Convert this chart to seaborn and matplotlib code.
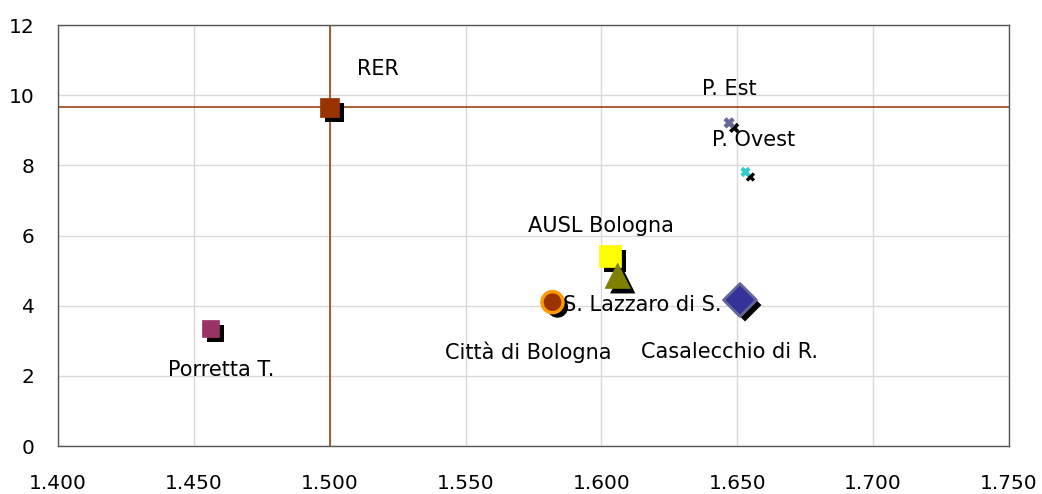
import matplotlib
matplotlib.use("Agg")
import matplotlib.pyplot as plt
import matplotlib.patheffects as pe
from matplotlib.ticker import FuncFormatter, MultipleLocator
import seaborn as sns
import pandas as pd

# ---- data ----
labels = ["RER", "Porretta T.", "P. Est", "P. Ovest", "AUSL Bologna",
          "S. Lazzaro di S.", "Città di Bologna", "Casalecchio di R."]
x_vals = [1.500, 1.456, 1.647, 1.653, 1.603, 1.606, 1.582, 1.651]
y_vals = [9.66, 3.34, 9.21, 7.81, 5.42, 4.85, 4.10, 4.16]
face_colors = ["#993300", "#993366", "#666699", "#33CCCC", "#FFFF00",
               "#808000", "#993300", "#333399"]
edge_colors = ["#993300", "#993366", "#666699", "#33CCCC", "#FFFF00",
               "#808000", "#FF9900", "#666699"]
markers = ["s", "s", "X", "X", "s", "^", "o", "D"]
sizes = [190, 150, 55, 45, 250, 330, 230, 280]
edge_widths = [0.5, 0.5, 0.5, 0.5, 0.5, 0.5, 2.5, 2.0]
# label offsets in points relative to marker
label_dx = [34.6, 7.9, 0.0, 5.8, -6.5, 18.0, -17.3, -7.9]
label_dy = [27.4, -29.5, 24.5, 23.0, 21.6, -20.9, -36.0, -37.4]

ref_x = x_vals[0]
ref_y = y_vals[0]

df = pd.DataFrame({"label": labels, "x": x_vals, "y": y_vals})

sns.set_theme(style="whitegrid")
plt.rcParams["font.family"] = ["DejaVu Sans"]

fig = plt.figure(figsize=(10.42, 4.94), dpi=100)
ax = fig.add_axes([58 / 1042, 48 / 494, (1009 - 58) / 1042, (446 - 25) / 494])

ax.axhline(ref_y, color="#993300", lw=1.1, zorder=2)
ax.axvline(ref_x, color="#993300", lw=1.1, zorder=2)

shadow = [pe.SimplePatchShadow(offset=(3.6, -3.6), shadow_rgbFace="black", alpha=1.0),
          pe.Normal()]

for i in range(len(labels)):
    sub = df.iloc[[i]]
    sns.scatterplot(data=sub, x="x", y="y", ax=ax, marker=markers[i], s=sizes[i],
                    color=face_colors[i], edgecolor=edge_colors[i],
                    linewidth=edge_widths[i], zorder=3 + i, legend=False)
    ax.collections[-1].set_path_effects(shadow)
    ax.annotate(labels[i], (x_vals[i], y_vals[i]), xytext=(label_dx[i], label_dy[i]),
                textcoords="offset points", ha="center", va="center",
                fontsize=15, color="black", zorder=20)

ax.set_xlim(1.400, 1.750)
ax.set_ylim(0, 12)
ax.xaxis.set_major_locator(MultipleLocator(0.05))
ax.yaxis.set_major_locator(MultipleLocator(2))
ax.xaxis.set_major_formatter(FuncFormatter(lambda v, p: f"{v:.3f}"))
ax.yaxis.set_major_formatter(FuncFormatter(lambda v, p: f"{v:.0f}"))
ax.set_xlabel("")
ax.set_ylabel("")
ax.grid(True, color="#d9d9d9", lw=1)
ax.set_axisbelow(True)
for s in ax.spines.values():
    s.set_color("#555555")
    s.set_linewidth(1.0)
ax.tick_params(axis="both", length=0, labelsize=14.5, colors="black")
ax.tick_params(axis="x", pad=20)
ax.tick_params(axis="y", pad=17)

fig.savefig("out.png", dpi=100)
